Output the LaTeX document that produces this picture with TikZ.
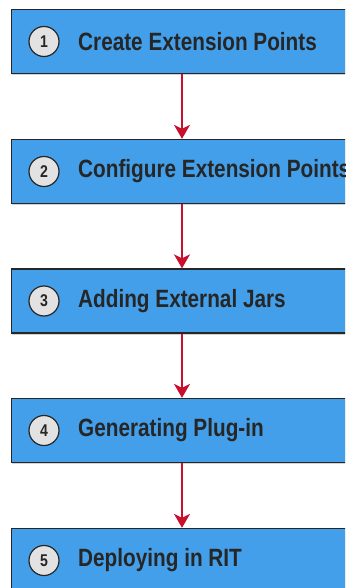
\documentclass[tikz,border=0pt]{standalone}
\usepackage{fontspec}
\setmainfont{Liberation Sans}
\newfontfamily\condfont[FakeStretch=0.83]{Liberation Sans}
\usetikzlibrary{shadows,arrows.meta}
\definecolor{boxblue}{HTML}{439FE9}
\definecolor{arrred}{HTML}{C8102E}
\definecolor{txtdark}{HTML}{262626}
\definecolor{circgray}{HTML}{E2E2E2}
\tikzset{
  stepbox/.style={draw=black!85, line width=1.3pt, fill=boxblue,
    minimum width=352pt, minimum height=64pt, inner sep=0pt,
    drop shadow={shadow xshift=0pt, shadow yshift=-1.5pt, opacity=0.35}},
  numcirc/.style={circle, draw=black!85, line width=1.2pt, fill=circgray,
    minimum size=30pt, inner sep=0pt, text=txtdark,
    font=\condfont\bfseries\fontsize{17}{17}\selectfont},
  steplabel/.style={anchor=west, inner sep=0pt, text=txtdark,
    font=\condfont\bfseries\fontsize{25}{26}\selectfont},
  flowarrow/.style={draw=arrred, line width=2.2pt,
    -{Stealth[length=14pt, width=16pt, inset=4pt]}}
}
\begin{document}
\begin{tikzpicture}[x=1pt,y=1pt]
\useasboundingbox (0,0) rectangle (345,-588);
\clip (0,0) rectangle (345,-588);
\foreach \i/\t/\yc in {1/Create Extension Points/-41.5,
                       2/Configure Extension Points/-171.5,
                       3/Adding External Jars/-301,
                       4/Generating Plug-in/-430.5,
                       5/Deploying in RIT/-560.5}{
  \node[stepbox, anchor=west] (b\i) at (11,\yc) {};
  \node[numcirc] (c\i) at (44,\yc) {\i};
  \node[steplabel] (t\i) at (78,\yc) {\t};
}
\foreach \a/\b in {1/2,2/3,3/4,4/5}{
  \draw[flowarrow] (b\a.south -| 182,0) -- (b\b.north -| 182,0);
}
\end{tikzpicture}
\end{document}
